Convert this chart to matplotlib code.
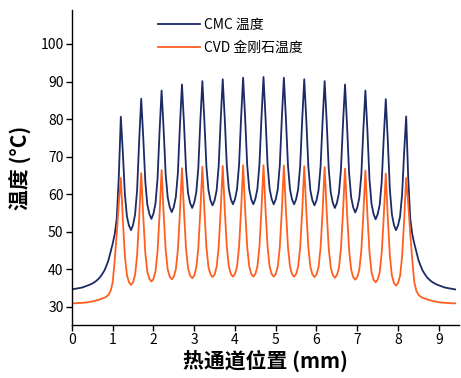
import numpy as np
import matplotlib
matplotlib.use('Agg')
from matplotlib import pyplot as plt

plt.rcParams['font.family'] = ['Noto Sans CJK SC', 'DejaVu Sans']

# position along the hot channel (mm), 0.05 mm steps
x_mm = np.linspace(0, 9.4, 189)

cmc_temp = [
    34.7, 34.7, 34.8, 34.9, 35.0, 35.1, 35.3, 35.5, 35.7, 35.9,
    36.2, 36.5, 36.9, 37.4, 38.0, 38.8, 39.7, 41.0, 42.5, 44.6,
    46.8, 49.3, 53.5, 64.5, 80.6,
    70.9, 59.9, 54.0, 51.6, 50.4, 51.8, 54.6, 61.2, 74.2, 85.4,
    75.1, 63.4, 57.2, 54.7, 53.4, 54.8, 57.5, 64.0, 76.7, 87.6,
    77.2, 65.3, 59.1, 56.5, 55.2, 56.6, 59.3, 65.7, 78.3, 89.2,
    78.7, 66.5, 60.2, 57.6, 56.3, 57.7, 60.4, 66.8, 79.3, 90.1,
    79.5, 67.3, 61.0, 58.3, 57.0, 58.3, 61.0, 67.4, 79.8, 90.6,
    79.9, 67.6, 61.3, 58.6, 57.3, 58.6, 61.3, 67.7, 80.2, 91.0,
    80.2, 67.7, 61.3, 58.6, 57.3, 58.7, 61.4, 67.8, 80.3, 91.2,
    80.3, 67.8, 61.4, 58.7, 57.3, 58.6, 61.3, 67.7, 80.2, 91.0,
    80.2, 67.7, 61.3, 58.6, 57.3, 58.6, 61.3, 67.6, 79.9, 90.6,
    79.8, 67.4, 61.0, 58.3, 57.0, 58.3, 61.0, 67.3, 79.5, 90.1,
    79.3, 66.8, 60.4, 57.7, 56.3, 57.6, 60.2, 66.5, 78.7, 89.2,
    78.2, 65.6, 59.2, 56.5, 55.1, 56.4, 59.0, 65.2, 77.3, 87.6,
    76.7, 63.9, 57.4, 54.7, 53.3, 54.6, 57.1, 63.3, 75.0, 85.3,
    74.1, 61.2, 54.6, 51.8, 50.4, 51.6, 54.0, 59.9, 71.0, 80.7,
    64.5, 53.5, 49.3, 46.8, 44.6, 42.5, 41.0, 39.7, 38.8, 38.0,
    37.4, 36.9, 36.5, 36.2, 35.9, 35.7, 35.5, 35.3, 35.1, 35.0,
    34.9, 34.8, 34.7, 34.6,
]

cvd_temp = [
    30.9, 30.9, 30.9, 31.0, 31.0, 31.0, 31.1, 31.1, 31.2, 31.3,
    31.4, 31.5, 31.7, 31.8, 32.0, 32.2, 32.4, 32.7, 33.2, 34.2,
    36.5, 42.4, 49.5, 57.5, 64.3,
    53.0, 43.4, 38.4, 36.5, 35.8, 36.5, 38.5, 43.8, 53.7, 65.6,
    54.1, 44.4, 39.3, 37.4, 36.7, 37.4, 39.4, 44.6, 54.5, 66.4,
    54.8, 45.1, 39.9, 38.0, 37.3, 38.0, 40.0, 45.2, 55.1, 66.9,
    55.2, 45.4, 40.2, 38.3, 37.6, 38.3, 40.3, 45.5, 55.4, 67.3,
    55.6, 45.8, 40.5, 38.6, 37.9, 38.6, 40.6, 45.8, 55.7, 67.5,
    55.7, 45.9, 40.7, 38.7, 38.0, 38.7, 40.7, 45.9, 55.8, 67.7,
    55.8, 45.9, 40.7, 38.7, 38.0, 38.7, 40.7, 45.9, 55.8, 67.7,
    55.8, 45.9, 40.7, 38.7, 38.0, 38.7, 40.7, 45.9, 55.7, 67.6,
    55.7, 45.9, 40.7, 38.7, 38.0, 38.7, 40.7, 45.8, 55.6, 67.4,
    55.6, 45.8, 40.6, 38.6, 37.9, 38.6, 40.5, 45.7, 55.5, 67.2,
    55.4, 45.6, 40.4, 38.4, 37.7, 38.4, 40.3, 45.5, 55.2, 66.8,
    55.0, 45.1, 39.9, 37.9, 37.2, 37.9, 39.8, 45.0, 54.7, 66.3,
    54.4, 44.5, 39.2, 37.2, 36.5, 37.2, 39.1, 44.3, 54.0, 65.5,
    53.5, 43.6, 38.3, 36.3, 35.6, 36.3, 38.2, 43.3, 52.9, 64.3,
    57.5, 49.5, 42.4, 36.5, 34.2, 33.2, 32.7, 32.4, 32.2, 32.0,
    31.8, 31.7, 31.5, 31.4, 31.3, 31.2, 31.1, 31.1, 31.0, 31.0,
    31.0, 30.9, 30.9, 30.9,
]

x_ticks = list(range(0, 10))
y_ticks = list(range(30, 101, 10))

fig = plt.figure(figsize=(4.61, 3.78), dpi=100)
ax = fig.add_axes([0.156, 0.140, 0.840, 0.833])

ax.plot(x_mm, cmc_temp, color='#1c2a66', lw=1.3, label='CMC 温度')
ax.plot(x_mm, cvd_temp, color='#ff5f1f', lw=1.3, label='CVD 金刚石温度')

ax.set_xlim(0, 9.5)
ax.set_ylim(25.1, 109)
ax.set_xticks(x_ticks)
ax.set_yticks(y_ticks)
ax.tick_params(direction='out', length=4, width=1, labelsize=10, pad=2)
for s in ['top', 'right']:
    ax.spines[s].set_visible(False)
for s in ['left', 'bottom']:
    ax.spines[s].set_linewidth(1)

ax.set_xlabel('热通道位置 (mm)', fontsize=15, fontweight='bold', labelpad=2)
ax.set_ylabel('温度 (°C)', fontsize=15, fontweight='bold', labelpad=6)

ax.legend(loc='upper left', bbox_to_anchor=(0.222, 0.975), frameon=False,
          fontsize=10, handlelength=3.0, handletextpad=0.3,
          labelspacing=0.6, borderpad=0, borderaxespad=0)

fig.savefig('out.png', dpi=100)
